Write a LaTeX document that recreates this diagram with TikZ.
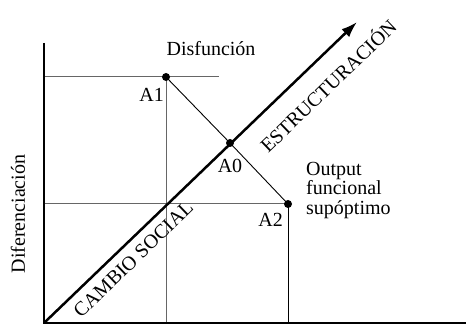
\documentclass[tikz,border=0pt]{standalone}
\usepackage{fontspec}
\setmainfont{Liberation Serif}
\usepackage{tikz}
\usetikzlibrary{arrows.meta,positioning}
\tikzset{
  axis/.style={line width=2pt, black},
  guide/.style={line width=1pt, black!60},
  link/.style={line width=0.9pt, black},
  dot/.style={fill=black},
  lbl/.style={font=\fontsize{20}{19.5}\selectfont, inner sep=0pt},
  trend/.style={-{Latex[length=16pt, width=11pt]}, line width=2.5pt}
}
\begin{document}
\begin{tikzpicture}[x=1pt, y=1pt]
\useasboundingbox (0,0) rectangle (466,324);
\coordinate (o) at (44,1);
\coordinate (ytop) at (44,281);
\coordinate (xend) at (466,1);
\coordinate (a1) at (166,247);
\coordinate (a0) at (230,181);
\coordinate (a2) at (288,120);
\coordinate (tip) at (357,302);
\coordinate (h1) at (219,247);
% guides
\draw[guide] (ytop |- a1) -- (h1);
\draw[guide] (ytop |- a2) -- (a2);
\draw[guide] (a1) -- (a1 |- o);
\draw[link] (a2) -- (a2 |- o);
\draw[link] (a1) -- (a0) -- (a2);
% axes
\draw[axis] (ytop) -- (o) -- (xend);
\draw[trend] (o) -- (tip)
  node[lbl, pos=0.25, sloped, below=8pt] (cambio) {CAMBIO SOCIAL}
  node[lbl, pos=0.85, sloped, below=15pt] (estr) {ESTRUCTURACIÓN};
\foreach \p in {a1,a0,a2} \fill[dot] (\p) circle (4pt);
% labels
\node[lbl, below left=11pt and 2pt of a1] (la1) {A1};
\node[lbl, below=16pt of a0] (la0) {A0};
\node[lbl, below left=9pt and 5pt of a2] (la2) {A2};
\node[lbl] (disf) at (211,275) {Disfunción};
\node[lbl, align=left, anchor=north west] (outp) at (306,162) {Output\\funcional\\supóptimo};
\node[lbl, rotate=90] (dif) at (18,110) {Diferenciación};
\end{tikzpicture}
\end{document}
